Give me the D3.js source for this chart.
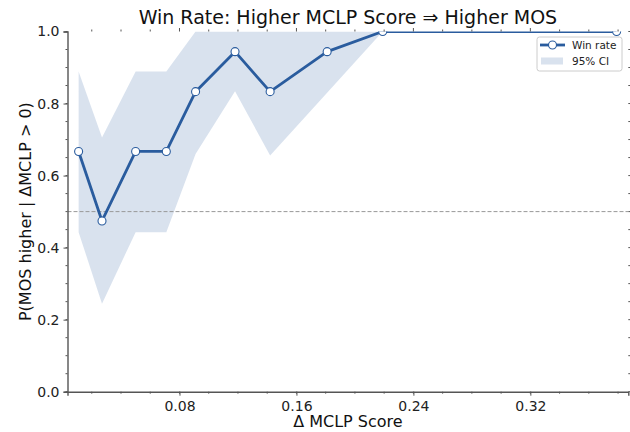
<!DOCTYPE html>
<html><head><meta charset="utf-8">
<script src="https://cdn.jsdelivr.net/npm/d3@7"></script>
<style>body{margin:0;background:#fff}svg{display:block}text{font-family:"DejaVu Sans",sans-serif}</style>
</head><body><svg id="c" width="630" height="432"></svg>
<script>
const deltaX   = [0.011, 0.027, 0.050, 0.071, 0.091, 0.118, 0.142, 0.181, 0.219, 0.379];
const winRate  = [0.667, 0.474, 0.667, 0.667, 0.833, 0.944, 0.833, 0.944, 1.0, 1.0];
const ciLower  = [0.443, 0.244, 0.443, 0.443, 0.660, 0.834, 0.656, 0.830, 1.0, 1.0];
const ciUpper  = [0.889, 0.706, 0.889, 0.889, 1.0, 1.0, 1.0, 1.0, 1.0, 1.0];
const xTicks = [0.08, 0.16, 0.24, 0.32];
const yTicks = [0.0, 0.2, 0.4, 0.6, 0.8, 1.0];
const xMinor = d3.range(0.02, 0.3801, 0.02);
const yMinor = d3.range(0, 1.0001, 0.05);

const m = {l:67.5, r:628.3, t:31.5, b:391.7};
const col = "#2a5c9e", spine = "#555";
const svg = d3.select("#c");
const x = d3.scaleLinear().domain([0.0034, 0.387]).range([m.l, m.r]);
const y = d3.scaleLinear().domain([0, 1]).range([m.b, m.t]);
const data = deltaX.map((d,i)=>({x:d, w:winRate[i], lo:ciLower[i], hi:ciUpper[i]}));

svg.append("defs").append("clipPath").attr("id","clip").append("rect")
  .attr("x",m.l).attr("y",m.t).attr("width",m.r-m.l).attr("height",m.b-m.t);
const g = svg.append("g").attr("clip-path","url(#clip)");

g.append("path").datum(data)
  .attr("d", d3.area().x(d=>x(d.x)).y0(d=>y(d.lo)).y1(d=>y(d.hi)))
  .attr("fill", col).attr("fill-opacity", 0.18);
g.append("line").attr("x1",m.l).attr("x2",m.r).attr("y1",y(0.5)).attr("y2",y(0.5))
  .attr("stroke","#999").attr("stroke-width",1).attr("stroke-dasharray","4,2");
g.append("path").datum(data)
  .attr("d", d3.line().x(d=>x(d.x)).y(d=>y(d.w)))
  .attr("fill","none").attr("stroke",col).attr("stroke-width",2.8).attr("stroke-linejoin","round");
g.selectAll("circle").data(data).join("circle")
  .attr("cx",d=>x(d.x)).attr("cy",d=>y(d.w)).attr("r",4)
  .attr("fill","#fff").attr("stroke",col).attr("stroke-width",1.1);

// axes
const fmt2 = d3.format(".2f"), fmt1 = d3.format(".1f");
const bottom = svg.append("g").attr("transform",`translate(0,${m.b})`)
  .call(d3.axisBottom(x).tickValues(xTicks).tickFormat(fmt2).tickSize(4).tickPadding(5));
const left = svg.append("g").attr("transform",`translate(${m.l},0)`)
  .call(d3.axisLeft(y).tickValues(yTicks).tickFormat(fmt1).tickSize(4).tickPadding(4));
[bottom,left].forEach(a=>{
  a.select(".domain").attr("stroke",spine).attr("stroke-width",1.4);
  a.selectAll(".tick line").attr("stroke",spine).attr("stroke-width",1);
  a.selectAll(".tick text").attr("font-size",14).attr("fill","#222");
});
// minor ticks
svg.append("g").selectAll("line").data(xMinor).join("line")
  .attr("x1",d=>x(d)).attr("x2",d=>x(d)).attr("y1",m.b).attr("y2",m.b+2).attr("stroke",spine);
svg.append("g").selectAll("line").data(yMinor).join("line")
  .attr("x1",m.l-2).attr("x2",m.l).attr("y1",d=>y(d)).attr("y2",d=>y(d)).attr("stroke",spine);
// top ticks (mirrored)
svg.append("g").selectAll("line").data(xMinor).join("line")
  .attr("x1",d=>x(d)).attr("x2",d=>x(d))
  .attr("y1",m.t).attr("y2",d=>m.t-(xTicks.some(t=>Math.abs(t-d)<1e-6)?3.5:2)).attr("stroke",spine);
// right ticks (mirrored)
svg.append("g").selectAll("line").data(yMinor).join("line")
  .attr("x1",m.r).attr("x2",d=>m.r+(yTicks.some(t=>Math.abs(t-d)<1e-6)?3:2))
  .attr("y1",d=>y(d)).attr("y2",d=>y(d)).attr("stroke",spine);

// labels
svg.append("text").attr("x",(m.l+m.r)/2).attr("y",23.5).attr("text-anchor","middle")
  .attr("font-size",19).attr("fill","#111").text("Win Rate: Higher MCLP Score ⇒ Higher MOS");
svg.append("text").attr("x",(m.l+m.r)/2).attr("y",427).attr("text-anchor","middle")
  .attr("font-size",16).attr("fill","#111").text("Δ MCLP Score");
svg.append("text").attr("transform",`translate(25,${(m.t+m.b)/2}) rotate(-90)`).attr("text-anchor","middle")
  .attr("dy","0.35em").attr("font-size",16).attr("fill","#111").text("P(MOS higher | ΔMCLP > 0)");

// legend
const lg = svg.append("g").attr("transform","translate(537,37)");
lg.append("rect").attr("width",85).attr("height",34).attr("rx",2.5)
  .attr("fill","#fff").attr("fill-opacity",0.85).attr("stroke","#ccc").attr("stroke-width",1);
lg.append("line").attr("x1",3).attr("x2",28).attr("y1",8).attr("y2",8).attr("stroke",col).attr("stroke-width",2.8);
lg.append("circle").attr("cx",15.5).attr("cy",8).attr("r",4).attr("fill","#fff").attr("stroke",col).attr("stroke-width",1.1);
lg.append("rect").attr("x",4).attr("y",20.5).attr("width",22).attr("height",7).attr("fill",col).attr("fill-opacity",0.18);
lg.append("text").attr("x",35).attr("y",11.5).attr("font-size",10.5).attr("fill","#222").text("Win rate");
lg.append("text").attr("x",35).attr("y",28).attr("font-size",10.5).attr("fill","#222").text("95% CI");
</script></body></html>
